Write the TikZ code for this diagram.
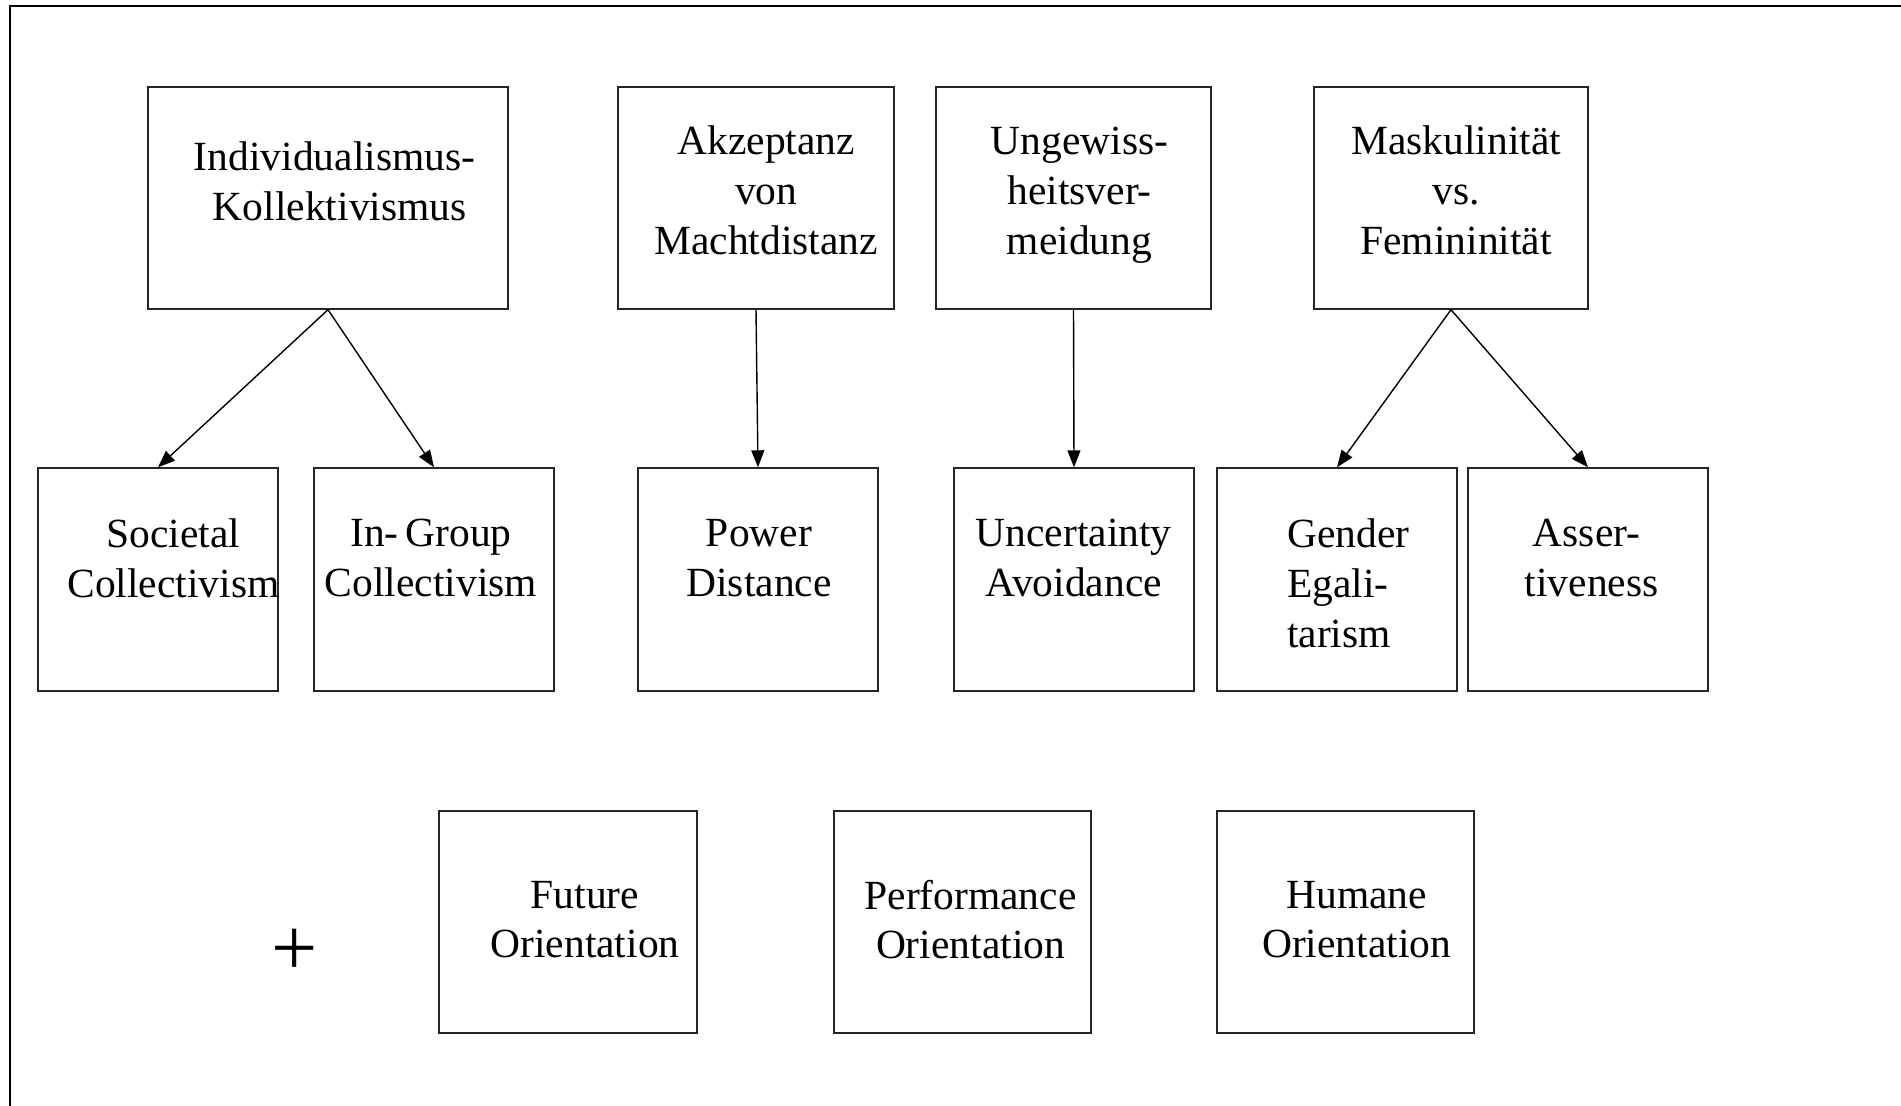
\documentclass[tikz,border=0pt]{standalone}
\usepackage{fontspec}
\setmainfont{Liberation Serif}
\usetikzlibrary{arrows.meta}
\begin{document}
\begin{tikzpicture}[x=0.5pt,y=-0.5pt,
  box/.style={draw=black!85, line width=0.7pt, inner sep=0pt, minimum height=111pt},
  topbox/.style={box, minimum height=111pt},
  txt/.style={font=\fontsize{20.75}{24.9}\selectfont, align=center, inner sep=0pt},
  conn/.style={line width=0.7pt, -{Triangle[length=8.5pt,width=6.5pt]}, shorten >=0pt}
]
\useasboundingbox (0,0) rectangle (1901,1106);
\clip (0,0) rectangle (1901,1106);
\draw[line width=1.3pt] (10,6) rectangle (1930,1140);

% top row
\node[topbox, minimum width=180pt] (ind) at (328,198) {};
\node[topbox, minimum width=138pt] (akz) at (756,198) {};
\node[topbox, minimum width=137.5pt] (ung) at (1073.5,198) {};
\node[topbox, minimum width=137pt] (mask) at (1451,198) {};
\node[txt] (ind-t) at (334.6,181.3) {Individualismus-\\\ Kollektivismus};
\node[txt] (akz-t) at (766.2,190.3) {Akzeptanz\\von\\Machtdistanz};
\node[txt] (ung-t) at (1079.6,195.3) {Ungewiss-\\heitsver-\\meidung};
\node[txt] (mask-t) at (1456.1,190.3) {Maskulinität\\vs.\\Femininität};

% middle row
\node[box, minimum width=120pt, minimum height=111.5pt] (soc) at (158,579.5) {};
\node[box, minimum width=120pt, minimum height=111.5pt] (ig) at (434,579.5) {};
\node[box, minimum width=120pt, minimum height=111.5pt] (pow) at (758,579.5) {};
\node[box, minimum width=120pt, minimum height=111.5pt] (unc) at (1074,579.5) {};
\node[box, minimum width=120pt, minimum height=111.5pt] (gen) at (1337,579.5) {};
\node[box, minimum width=120pt, minimum height=111.5pt] (ass) at (1588,579.5) {};
\node[txt] (soc-t) at (173.4,558.3) {Societal\\Collectivism};
\node[txt] (ig-t) at (431,558.3) {In-\,Group\\Collectivism};
\node[txt] (pow-t) at (759,558.3) {Power\\Distance};
\node[txt] (unc-t) at (1073.6,558.3) {Uncertainty\\Avoidance};
\node[txt, align=left] (gen-t) at (1348.2,583.2) {Gender\\Egali-\\tarism};
\node[txt] (ass-t) at (1586.5,558.3) {Asser-\\\ tiveness};

% bottom row
\node[box, minimum width=129pt, minimum height=111pt] (fut) at (568,922) {};
\node[box, minimum width=128.5pt, minimum height=111pt] (perf) at (962.5,922) {};
\node[box, minimum width=128.5pt, minimum height=111pt] (hum) at (1345.5,922) {};
\node[txt] (fut-t) at (585,919.6) {Future\\Orientation};
\node[txt] (perf-t) at (970.5,919.6) {Performance\\Orientation};
\node[txt] (hum-t) at (1356.7,919.6) {Humane\\Orientation};

\node[font=\fontsize{41}{44}\selectfont, inner sep=0pt] (plus) at (294.6,952) {+};

% connectors
\draw[conn] (ind.south) -- (soc.north);
\draw[conn] (ind.south) -- (ig.north);
\draw[conn] (akz.south) -- (pow.north);
\draw[conn] (ung.south) -- (unc.north);
\draw[conn] (mask.south) -- (gen.north);
\draw[conn] (mask.south) -- (ass.north);
\end{tikzpicture}
\end{document}
